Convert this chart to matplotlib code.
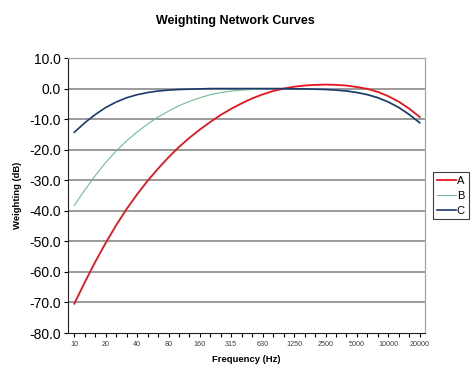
import numpy as np
import matplotlib
matplotlib.use("Agg")
import matplotlib.pyplot as plt

plt.rcParams['font.family'] = ['Liberation Sans', 'DejaVu Sans']

# third-octave band centres (Hz)
freqs = ["10", "12.5", "16", "20", "25", "31.5", "40", "50", "63", "80",
         "100", "125", "160", "200", "250", "315", "400", "500", "630", "800",
         "1000", "1250", "1600", "2000", "2500", "3150", "4000", "5000", "6300", "8000",
         "10000", "12500", "16000", "20000"]

a_weight = [-70.4, -63.4, -56.7, -50.5, -44.7, -39.4, -34.6, -30.2, -26.2, -22.5,
            -19.1, -16.1, -13.4, -10.9, -8.6, -6.6, -4.8, -3.2, -1.9, -0.8,
            0.0, 0.6, 1.0, 1.2, 1.3, 1.2, 1.0, 0.5, -0.1, -1.1,
            -2.5, -4.3, -6.6, -9.3]
b_weight = [-38.2, -33.2, -28.5, -24.2, -20.4, -17.1, -14.2, -11.6, -9.3, -7.4,
            -5.6, -4.2, -3.0, -2.0, -1.3, -0.8, -0.5, -0.3, -0.1, 0.0,
            0.0, 0.0, 0.0, -0.1, -0.2, -0.4, -0.7, -1.2, -1.9, -2.9,
            -4.3, -6.1, -8.4, -11.1]
c_weight = [-14.3, -11.2, -8.5, -6.2, -4.4, -3.0, -2.0, -1.3, -0.8, -0.5,
            -0.3, -0.2, -0.1, 0.0, 0.0, 0.0, 0.0, 0.0, 0.0, 0.0,
            0.0, -0.1, -0.1, -0.2, -0.3, -0.5, -0.8, -1.3, -2.0, -3.0,
            -4.4, -6.2, -8.5, -11.2]

x = np.arange(len(freqs))

fig = plt.figure(figsize=(4.74, 3.78), dpi=100)
ax = fig.add_axes([0.1435, 0.119, 0.753, 0.7275])

# gridlines
for y in range(-70, 10, 10):
    ax.axhline(y, color="#7f7f7f", linewidth=1.1, zorder=1)

ax.plot(x, a_weight, color="#e8141c", linewidth=1.3, label="A", zorder=3)
ax.plot(x, b_weight, color="#6fbf8f", linewidth=0.8, label="B", zorder=3)
ax.plot(x, c_weight, color="#1b3a6b", linewidth=1.2, label="C", zorder=4)

ax.set_xlim(-0.6, len(freqs) - 0.5)
ax.set_ylim(-80, 10)
ax.set_yticks(np.arange(-80, 11, 10))
ax.set_yticklabels([f"{v:.1f}" for v in np.arange(-80, 11, 10)], fontsize=10)

ax.set_xticks(x[::3])
ax.set_xticklabels(freqs[::3], fontsize=5.2, color="#404040")
ax.set_xticks(x, minor=True)
ax.tick_params(axis="x", which="both", length=3, width=0.8, direction="out", pad=2.5)
ax.tick_params(axis="y", length=3, width=0.8, direction="out", pad=2)

for side in ["top", "right"]:
    ax.spines[side].set_color("#a6a6a6")
    ax.spines[side].set_linewidth(0.9)
ax.spines["left"].set_color("#202020")
ax.spines["bottom"].set_color("#202020")

ax.set_xlabel("Frequency (Hz)", fontsize=6.8, fontweight="bold", labelpad=5)
ax.set_ylabel("Weighting (dB)", fontsize=6.8, fontweight="bold", labelpad=5)
fig.suptitle("Weighting Network Curves", x=0.496, y=0.96, fontsize=9, fontweight="bold")

leg = ax.legend(loc="center left", bbox_to_anchor=(1.022, 0.5), fontsize=8,
                handlelength=1.7, handletextpad=0.1, labelspacing=0.45,
                borderpad=0.35, fancybox=False, framealpha=1, borderaxespad=0)
leg.get_frame().set_edgecolor("#404040")
leg.get_frame().set_linewidth(0.8)

fig.savefig("out.png", dpi=100)
